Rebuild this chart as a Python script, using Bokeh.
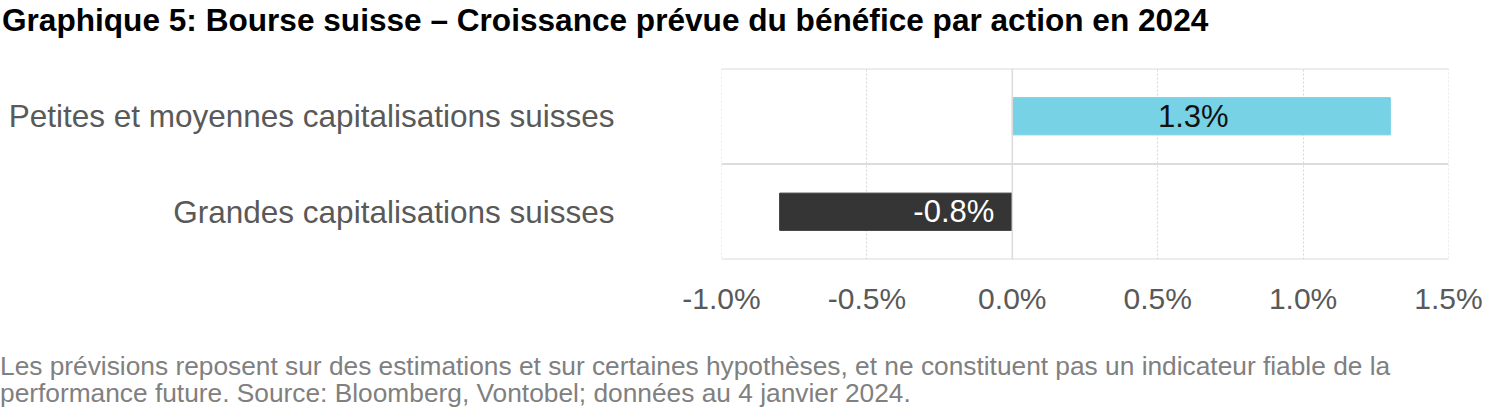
from bokeh.plotting import figure
from bokeh.layouts import column
from bokeh.models import (FactorRange, Range1d, Span, ColumnDataSource, Div,
                          PrintfTickFormatter, FixedTicker)
from bokeh.core.properties import value
from bokeh.embed import file_html
from bokeh.resources import INLINE

categories = ["Grandes capitalisations suisses",
              "Petites et moyennes capitalisations suisses"]
growth = [-0.8, 1.3]
bar_labels = ["-0.8%", "1.3%"]
bar_colors = ["#353535", "#76D2E4"]
label_colors = ["#FFFFFF", "#111111"]
x_ticks = [-1.0, -0.5, 0.0, 0.5, 1.0, 1.5]

title_text = "Graphique 5: Bourse suisse \u2013 Croissance pr\u00e9vue du b\u00e9n\u00e9fice par action en 2024"
foot_lines = [("Les pr\u00e9visions reposent sur des estimations et sur certaines hypoth\u00e8ses, "
               "et ne constituent pas un indicateur fiable de la"),
              "performance future. Source: Bloomberg, Vontobel; donn\u00e9es au 4 janvier 2024."]

FONT = "Liberation Sans"
GRID = "#D6D6D6"
W = 1484
TITLE_H, MAIN_H, FOOT_H = 40, 300, 68

title_div = Div(text=title_text, width=W, height=TITLE_H, margin=(0, 0, 0, 0),
                styles={"font-family": FONT, "font-size": "31.6px",
                        "font-weight": "bold", "color": "#000000",
                        "line-height": "40px", "white-space": "nowrap",
                        "padding-left": "2px"})
foot_div = Div(text="<br>".join(foot_lines), width=W, height=FOOT_H,
               margin=(0, 0, 0, 0),
               styles={"font-family": FONT, "font-size": "26.3px",
                       "color": "#808080", "line-height": "27px",
                       "white-space": "nowrap", "padding-top": "13px"})

p = figure(width=W, height=MAIN_H, y_range=FactorRange(*categories),
           x_range=Range1d(x_ticks[0], x_ticks[-1]), output_backend="svg",
           toolbar_location=None, min_border_left=721, min_border_right=36,
           min_border_top=28, min_border_bottom=81)
p.outline_line_color = None
p.background_fill_color = "white"
p.border_fill_color = "white"

label_x = [v / 2 if v > 0 else 0 for v in growth]
aligns = ["center" if v > 0 else "right" for v in growth]
offsets = [-8 if v > 0 else -18 for v in growth]
src = ColumnDataSource(dict(cat=categories, val=growth, color=bar_colors,
                            lab=bar_labels, lx=label_x, align=aligns,
                            off=offsets, lcol=label_colors))

# grid
p.xgrid.ticker = FixedTicker(ticks=x_ticks)
p.xgrid.grid_line_color = GRID
p.xgrid.grid_line_dash = "2 2"
p.xgrid.grid_line_width = 1
p.ygrid.grid_line_color = None

for xb in [x_ticks[0], x_ticks[-1]]:
    p.add_layout(Span(location=xb, dimension="height", line_color=GRID,
                      line_width=1, line_dash="2 2"))
for yb in [0, 1, 2]:
    p.add_layout(Span(location=yb, dimension="width", line_color="#DCDCDC", line_width=2))
p.add_layout(Span(location=0, dimension="height", line_color="#DCDCDC", line_width=1.5))

p.hbar(y="cat", left=0, right="val", height=0.39, color="color", source=src)
p.text(x="lx", y="cat", text="lab", text_align="align", x_offset="off",
       text_baseline="middle", text_color="lcol", text_font=value(FONT),
       text_font_size="31px", source=src)

# axes
p.xaxis.ticker = FixedTicker(ticks=x_ticks)
p.xaxis.formatter = PrintfTickFormatter(format="%.1f%%")
p.xaxis.axis_line_color = None
p.xaxis.major_tick_line_color = None
p.xaxis.minor_tick_line_color = None
p.xaxis.major_label_standoff = 16
p.xaxis.major_label_text_font = FONT
p.xaxis.major_label_text_font_size = "30px"
p.xaxis.major_label_text_color = "#595959"

p.yaxis.axis_line_color = None
p.yaxis.major_tick_line_color = None
p.yaxis.major_label_standoff = 101
p.yaxis.major_label_text_font = FONT
p.yaxis.major_label_text_font_size = "31.5px"
p.yaxis.major_label_text_color = "#595959"

layout = column(title_div, p, foot_div, spacing=0)
open("out.html", "w").write(file_html(layout, INLINE))
